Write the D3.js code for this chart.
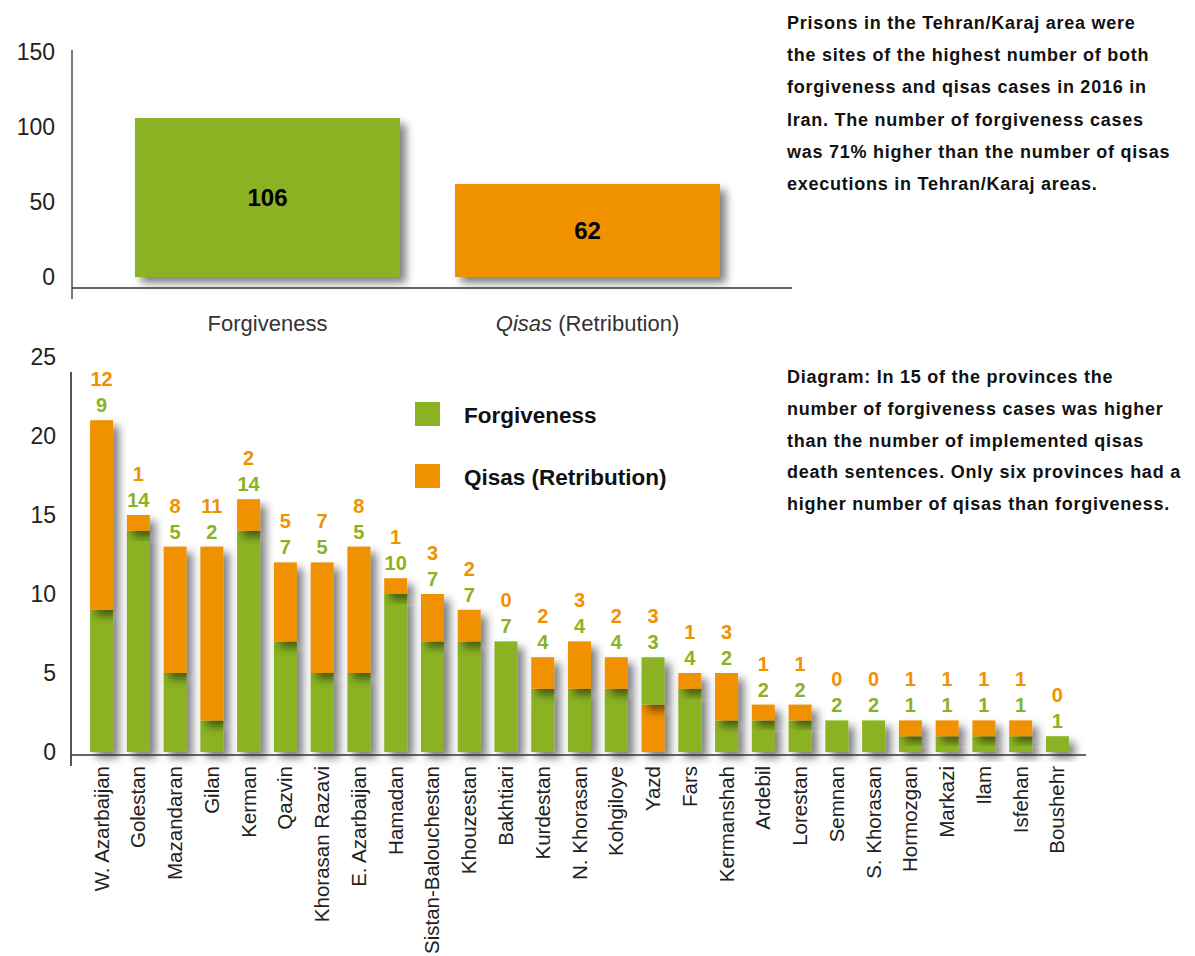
<!DOCTYPE html>
<html>
<head>
<meta charset="utf-8">
<script src="https://cdn.jsdelivr.net/npm/d3@7"></script>
<style>
  body { margin: 0; background: #fff; }
  svg { display: block; font-family: "Helvetica Neue", Arial, "Liberation Sans", sans-serif; }
</style>
</head>
<body>
<div id="chart"></div>
<script>
// top chart: Tehran/Karaj
const topCategories = ["Forgiveness", "Qisas (Retribution)"];
const topValues = [106, 62];
const topTicks = [0, 50, 100, 150];

// bottom chart: provinces
const provinces = ["W. Azarbaijan", "Golestan", "Mazandaran", "Gilan", "Kerman", "Qazvin", "Khorasan Razavi",
  "E. Azarbaijan", "Hamadan", "Sistan-Balouchestan", "Khouzestan", "Bakhtiari", "Kurdestan", "N. Khorasan",
  "Kohgiloye", "Yazd", "Fars", "Kermanshah", "Ardebil", "Lorestan", "Semnan", "S. Khorasan", "Hormozgan",
  "Markazi", "Ilam", "Isfehan", "Boushehr"];
const forgiveness = [9, 14, 5, 2, 14, 7, 5, 5, 10, 7, 7, 7, 4, 4, 4, 3, 4, 2, 2, 2, 2, 2, 1, 1, 1, 1, 1];
const qisas = [12, 1, 8, 11, 2, 5, 7, 8, 1, 3, 2, 0, 2, 3, 2, 3, 1, 3, 1, 1, 0, 0, 1, 1, 1, 1, 0];
const qisasFirst = ["Yazd"];
const bottomTicks = [0, 5, 10, 15, 20, 25];

const green = "#8AB222";
const orange = "#F09100";

const width = 1195, height = 956;

const svg = d3.select("#chart")
  .append("svg")
  .attr("width", width)
  .attr("height", height);

const defs = svg.append("defs");
defs.append("filter")
  .attr("id", "shadow")
  .attr("x", "-40%").attr("y", "-40%")
  .attr("width", "200%").attr("height", "200%")
  .append("feDropShadow")
  .attr("dx", 6).attr("dy", 6)
  .attr("stdDeviation", 4)
  .attr("flood-color", "#000")
  .attr("flood-opacity", 0.5);

// ---------- top chart
const xTop = d3.scaleBand()
  .domain(topCategories)
  .range([107.5, 747.5])
  .paddingInner(0.172)
  .paddingOuter(0.086);

const yTop = d3.scaleLinear().domain([0, 150]).range([277, 52]);

const gTop = svg.append("g");

gTop.append("g")
  .attr("transform", "translate(72,0)")
  .call(d3.axisLeft(yTop).tickValues(topTicks).tickSize(0).tickPadding(17))
  .call(g => g.select(".domain").remove())
  .selectAll("text")
  .attr("font-size", 23)
  .attr("fill", "#222")
  .attr("font-family", "\"Helvetica Neue\", Arial, sans-serif");

gTop.selectAll("rect")
  .data(topCategories)
  .enter()
  .append("rect")
  .attr("x", d => xTop(d))
  .attr("width", xTop.bandwidth())
  .attr("y", (d, i) => yTop(topValues[i]))
  .attr("height", (d, i) => yTop(0) - yTop(topValues[i]))
  .attr("fill", (d, i) => i === 0 ? green : orange)
  .attr("filter", "url(#shadow)");

gTop.selectAll(".val")
  .data(topCategories)
  .enter()
  .append("text")
  .attr("class", "val")
  .attr("x", d => xTop(d) + xTop.bandwidth() / 2)
  .attr("y", (d, i) => (yTop(topValues[i]) + yTop(0)) / 2)
  .attr("dy", "0.35em")
  .attr("text-anchor", "middle")
  .attr("font-size", 24)
  .attr("font-weight", "bold")
  .attr("fill", "#000")
  .text((d, i) => topValues[i]);

gTop.append("line")
  .attr("x1", 72).attr("x2", 72).attr("y1", 50).attr("y2", 299)
  .attr("stroke", "#333").attr("stroke-width", 1.3);
gTop.append("line")
  .attr("x1", 72).attr("x2", 792).attr("y1", 288).attr("y2", 288)
  .attr("stroke", "#333").attr("stroke-width", 1.3);

const topLab = gTop.selectAll(".cat")
  .data(topCategories)
  .enter()
  .append("text")
  .attr("class", "cat")
  .attr("x", d => xTop(d) + xTop.bandwidth() / 2)
  .attr("y", 331)
  .attr("text-anchor", "middle")
  .attr("font-size", 22)
  .attr("fill", "#333");
topLab.each(function(d) {
  const t = d3.select(this);
  if (d.startsWith("Qisas")) {
    t.append("tspan").attr("font-style", "italic").text("Qisas");
    t.append("tspan").text(d.slice(5));
  } else {
    t.text(d);
  }
});

// ---------- bottom chart
const xBot = d3.scaleBand()
  .domain(provinces)
  .range([83.1, 1075.9])
  .paddingInner(0.375)
  .paddingOuter(0.19);

const yBot = d3.scaleLinear().domain([0, 25]).range([752, 357]);

const gBot = svg.append("g");

gBot.append("g")
  .attr("transform", "translate(71,0)")
  .call(d3.axisLeft(yBot).tickValues(bottomTicks).tickSize(0).tickPadding(15))
  .call(g => g.select(".domain").remove())
  .selectAll("text")
  .attr("font-size", 23)
  .attr("fill", "#222")
  .attr("font-family", "\"Helvetica Neue\", Arial, sans-serif");

const segments = [];
provinces.forEach((p, i) => {
  const order = qisasFirst.includes(p)
    ? [{ v: qisas[i], c: orange }, { v: forgiveness[i], c: green }]
    : [{ v: forgiveness[i], c: green }, { v: qisas[i], c: orange }];
  let y0 = 0;
  order.forEach(s => {
    if (s.v > 0) segments.push({ p: p, y0: y0, y1: y0 + s.v, c: s.c });
    y0 += s.v;
  });
});

gBot.selectAll("rect")
  .data(segments)
  .enter()
  .append("rect")
  .attr("x", d => xBot(d.p))
  .attr("width", xBot.bandwidth())
  .attr("y", d => yBot(d.y1))
  .attr("height", d => yBot(d.y0) - yBot(d.y1))
  .attr("fill", d => d.c)
  .attr("filter", "url(#shadow)");

gBot.append("line")
  .attr("x1", 71).attr("x2", 71).attr("y1", 372).attr("y2", 766)
  .attr("stroke", "#555").attr("stroke-width", 2);
gBot.append("line")
  .attr("x1", 71).attr("x2", 1086).attr("y1", 755).attr("y2", 755)
  .attr("stroke", "#333").attr("stroke-width", 1.5);

// value labels above each bar
gBot.selectAll(".fv")
  .data(provinces)
  .enter()
  .append("text")
  .attr("class", "fv")
  .attr("x", d => xBot(d) + xBot.bandwidth() / 2)
  .attr("y", (d, i) => yBot(forgiveness[i] + qisas[i]) - 8)
  .attr("text-anchor", "middle")
  .attr("font-size", 20)
  .attr("font-weight", "bold")
  .attr("fill", green)
  .text((d, i) => forgiveness[i]);

gBot.selectAll(".qv")
  .data(provinces)
  .enter()
  .append("text")
  .attr("class", "qv")
  .attr("x", d => xBot(d) + xBot.bandwidth() / 2)
  .attr("y", (d, i) => yBot(forgiveness[i] + qisas[i]) - 34)
  .attr("text-anchor", "middle")
  .attr("font-size", 20)
  .attr("font-weight", "bold")
  .attr("fill", orange)
  .text((d, i) => qisas[i]);

// province names
gBot.selectAll(".prov")
  .data(provinces)
  .enter()
  .append("text")
  .attr("class", "prov")
  .attr("transform", d => `translate(${xBot(d) + xBot.bandwidth() / 2 + 7},766) rotate(-90)`)
  .attr("text-anchor", "end")
  .attr("font-size", 20.5)
  .attr("fill", "#222")
  .text(d => d);

// legend
const legend = gBot.append("g");
[["Forgiveness", green, 402], ["Qisas (Retribution)", orange, 464]].forEach(l => {
  legend.append("rect")
    .attr("x", 415).attr("y", l[2])
    .attr("width", 25).attr("height", 24)
    .attr("fill", l[1]);
  legend.append("text")
    .attr("x", 464).attr("y", l[2] + 21)
    .attr("font-size", 22.5)
    .attr("font-weight", "bold")
    .attr("fill", "#111")
    .text(l[0]);
});

// notes
const note1 = ["Prisons in the Tehran/Karaj area were",
  "the sites of the highest number of both",
  "forgiveness and qisas cases in 2016 in",
  "Iran. The number of forgiveness cases",
  "was 71% higher than the number of qisas",
  "executions in Tehran/Karaj areas."];
const note2 = ["Diagram: In 15 of the provinces the",
  "number of forgiveness cases was higher",
  "than the number of implemented qisas",
  "death sentences. Only six provinces had a",
  "higher number of qisas than forgiveness."];

svg.append("text")
  .attr("font-size", 18)
  .attr("font-weight", "bold")
  .attr("letter-spacing", 0.75)
  .attr("fill", "#111")
  .selectAll("tspan")
  .data(note1)
  .enter()
  .append("tspan")
  .attr("x", 787)
  .attr("y", (d, i) => 29 + i * 32.2)
  .text(d => d);

svg.append("text")
  .attr("font-size", 18)
  .attr("font-weight", "bold")
  .attr("letter-spacing", 0.75)
  .attr("fill", "#111")
  .selectAll("tspan")
  .data(note2)
  .enter()
  .append("tspan")
  .attr("x", 787)
  .attr("y", (d, i) => 383 + i * 31.8)
  .text(d => d);
</script>
</body>
</html>
